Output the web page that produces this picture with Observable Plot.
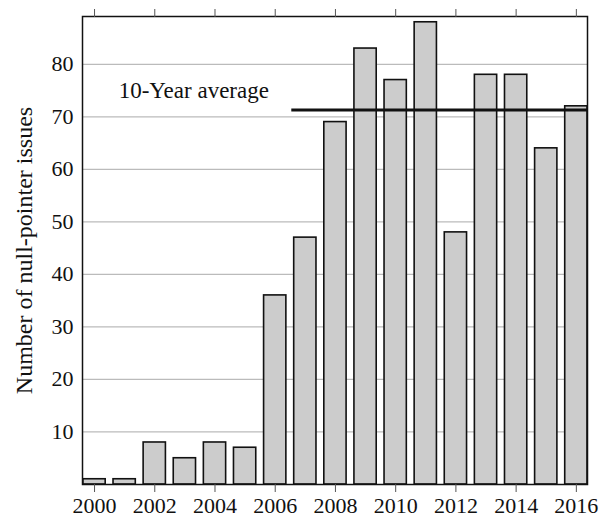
<!DOCTYPE html>
<html>
<head>
<meta charset="utf-8">
<script src="https://cdn.jsdelivr.net/npm/d3@7"></script>
<script src="https://cdn.jsdelivr.net/npm/@observablehq/plot@0.6"></script>
<style>
  html, body { margin: 0; padding: 0; background: #fff; }
</style>
</head>
<body>
<div id="chart"></div>
<script>
const years = [2000, 2001, 2002, 2003, 2004, 2005, 2006, 2007, 2008, 2009, 2010, 2011, 2012, 2013, 2014, 2015, 2016];
const counts = [1, 1, 8, 5, 8, 7, 36, 47, 69, 83, 77, 88, 48, 78, 78, 64, 72];
const xTicks = [2000, 2002, 2004, 2006, 2008, 2010, 2012, 2014, 2016];
const yTicks = [10, 20, 30, 40, 50, 60, 70, 80];
const averageValue = 71.3;
const averageStart = 2006.55;
const averageLabel = "10-Year average";
const yTitle = "Number of null-pointer issues";

const data = years.map((year, i) => ({year, count: counts[i]}));
const xDomain = [1999.6, 2016.37];
const half = 0.37;

const chart = Plot.plot({
  width: 599,
  height: 521,
  marginLeft: 82,
  marginRight: 12,
  marginTop: 16,
  marginBottom: 37,
  style: {fontFamily: "Liberation Serif", fontSize: "22px", color: "#111", background: "#fff"},
  x: {domain: xDomain},
  y: {domain: [0, 89.1]},
  marks: [
    Plot.gridY(yTicks, {stroke: "#bbb", strokeOpacity: 1, strokeWidth: 1.2}),
    Plot.rect(data, {x1: d => d.year - half, x2: d => d.year + half, y1: 0, y2: "count", fill: "#cccccc", stroke: "#111", strokeWidth: 1.6}),
    Plot.ruleY([averageValue], {x1: averageStart, x2: xDomain[1], stroke: "#111", strokeWidth: 3}),
    Plot.text([averageLabel], {x: 2000.8, y: 75, text: d => d, textAnchor: "start", fontSize: 23}),
    Plot.frame({stroke: "#111", strokeWidth: 1.5}),
    Plot.axisX(xTicks, {anchor: "bottom", tickSize: 8, tickPadding: 5, tickFormat: "d", label: null, stroke: "#555", fontSize: 22}),
    Plot.axisX(xTicks, {anchor: "top", tickSize: 8, tickFormat: () => "", label: null, stroke: "#555"}),
    Plot.axisY(yTicks, {anchor: "left", tickSize: 0, tickPadding: 9, label: null, fontSize: 22}),
    Plot.text([yTitle], {frameAnchor: "left", dx: -58, rotate: -90, textAnchor: "middle", text: d => d, fontSize: 24})
  ]
});
document.getElementById("chart").append(chart);
</script>
</body>
</html>
